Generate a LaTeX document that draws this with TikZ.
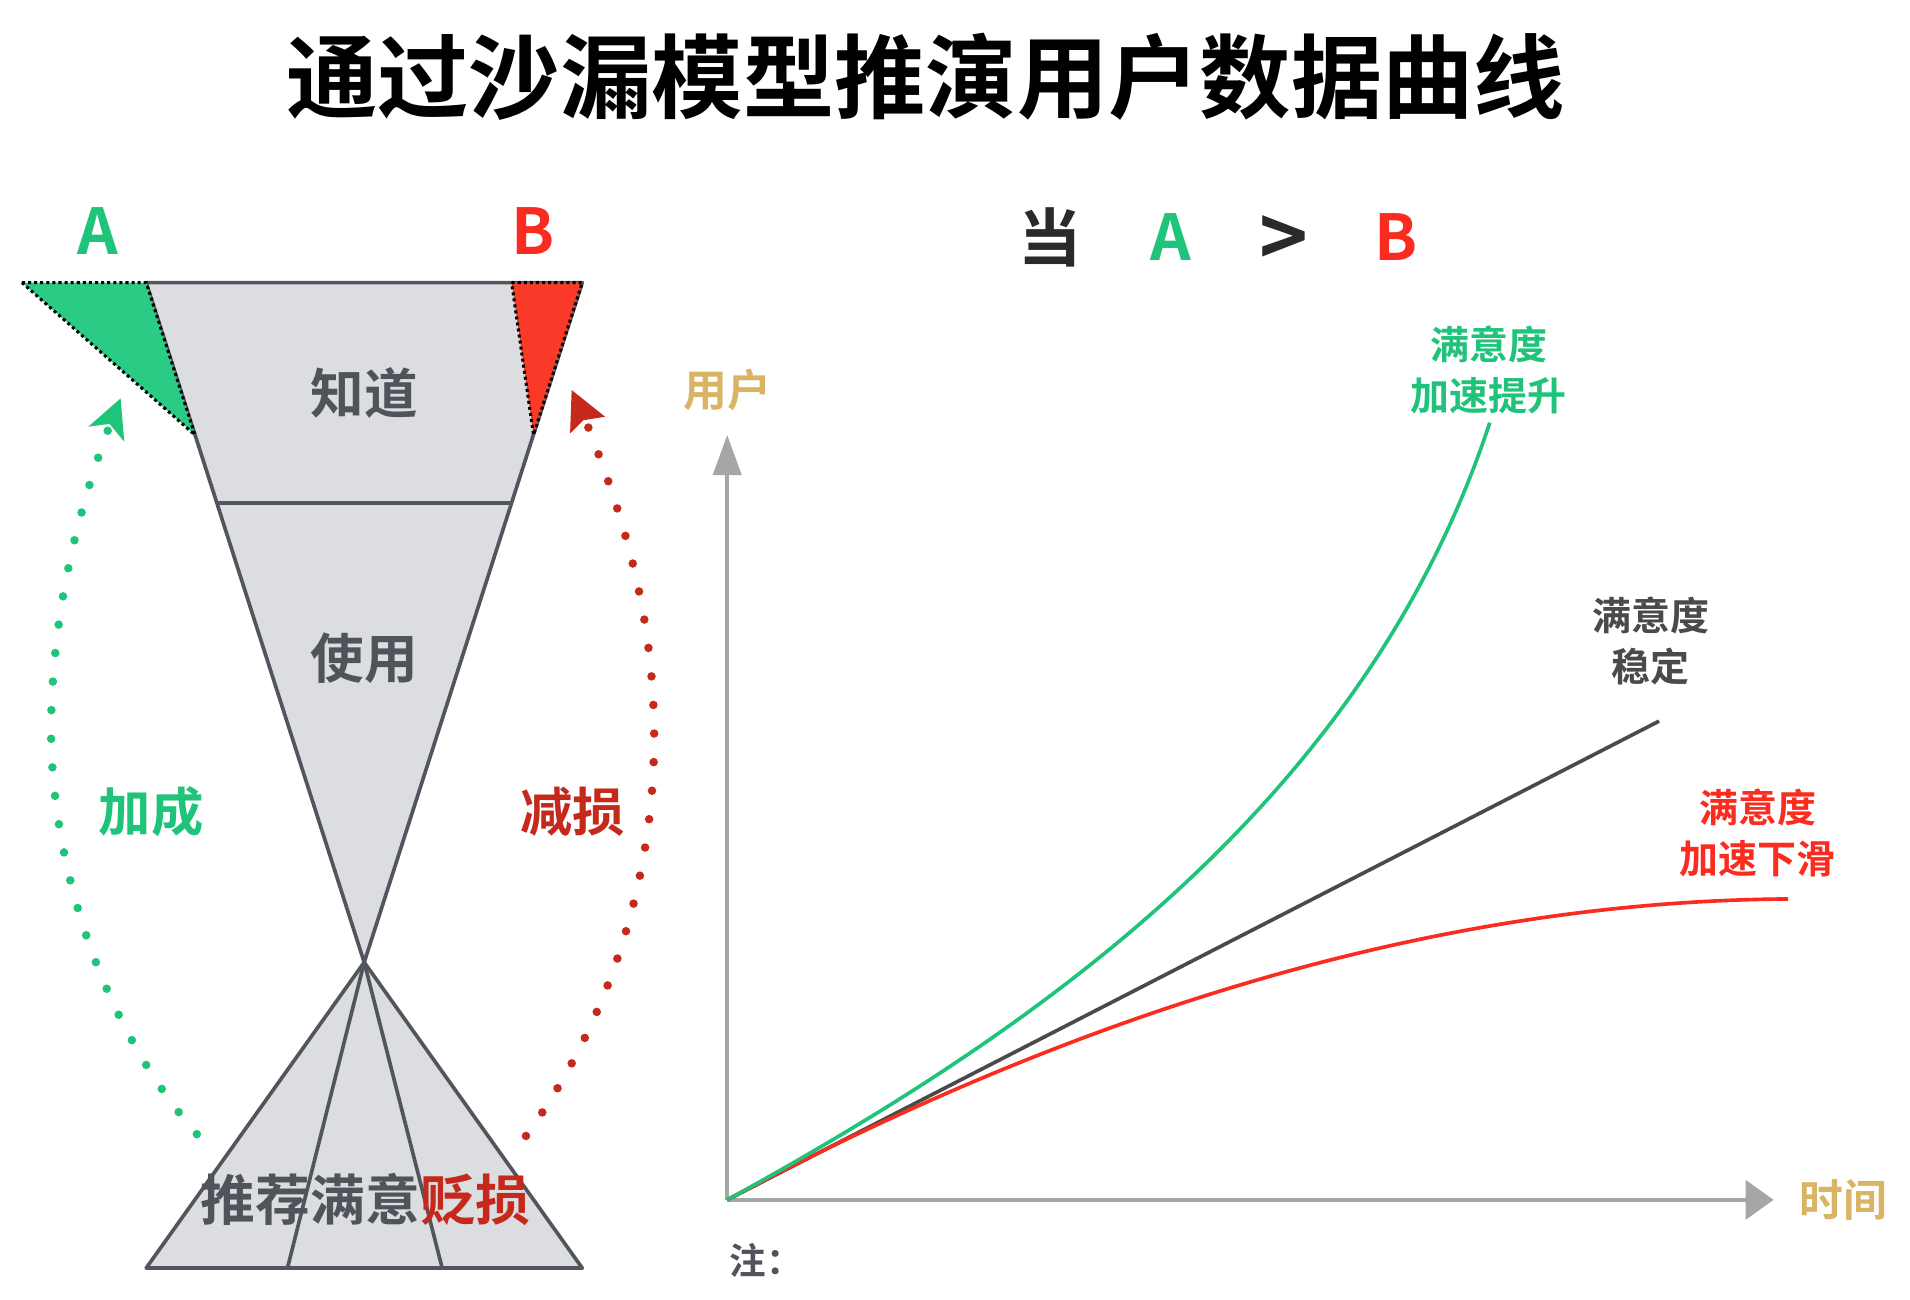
\documentclass[tikz,border=0pt]{standalone}
\usepackage{fontspec}
\setmainfont{Noto Sans CJK SC}[BoldFont={Noto Sans CJK SC Bold}]
\usetikzlibrary{arrows.meta}
\definecolor{hgfill}{HTML}{DCDDE1}
\definecolor{hgline}{HTML}{52555C}
\definecolor{tgray}{HTML}{50535A}
\definecolor{gfill}{HTML}{2ACB84}
\definecolor{gtext}{HTML}{1FC47A}
\definecolor{rfill}{HTML}{F93A28}
\definecolor{rtext}{HTML}{FA2B1F}
\definecolor{dred}{HTML}{C4291C}
\definecolor{axgray}{HTML}{A4A7A6}
\definecolor{gold}{HTML}{DAB465}
\definecolor{lgray}{HTML}{4A4A4A}
\definecolor{ink}{HTML}{2A2A2A}
\tikzset{
  hgshape/.style={fill=hgfill,draw=hgline,line width=3pt,line join=round},
  hgdiv/.style={draw=hgline,line width=3pt},
  tri/.style={draw=black,line width=2.5pt,dash pattern=on 2.5pt off 2.5pt},
  hgtext/.style={text=tgray,font=\bfseries\fontsize{44}{48}\selectfont,inner sep=0pt},
  bigletter/.style={font=\bfseries\fontsize{52}{56}\selectfont,inner sep=0pt},
  midtext/.style={font=\bfseries\fontsize{43}{48}\selectfont,inner sep=0pt},
  curvelabel/.style={font=\bfseries\fontsize{32}{42}\selectfont,align=center,inner sep=0pt},
  axislabel/.style={text=gold,font=\bfseries\fontsize{36}{40}\selectfont,inner sep=0pt},
  dotarc/.style={line width=7pt,line cap=round,dash pattern=on 0pt off 23.5pt},
  axis/.style={draw=axgray,line width=3.3pt},
  curve/.style={line width=3pt}
}
\begin{document}
\begin{tikzpicture}[x=1pt,y=-1pt]
\useasboundingbox[fill=white] (0,0) rectangle (1568,1067);
% title
\node[font=\bfseries\fontsize{75}{80}\selectfont,text=black,inner sep=0pt] (title) at (760,63) {通过沙漏模型推演用户数据曲线};
% hourglass coordinates
\coordinate (tl) at (120,232);
\coordinate (tr) at (478,232);
\coordinate (w) at (299,790);
\coordinate (bl) at (120,1041);
\coordinate (br) at (478,1041);
\coordinate (ml) at (178,413);
\coordinate (mr) at (420,413);
\coordinate (b1) at (236,1041);
\coordinate (b2) at (363,1041);
\coordinate (gA) at (18,232);
\coordinate (gB) at (160,357);
\coordinate (rA) at (420,232);
\coordinate (rB) at (438,357);
% upper part
\draw[hgshape] (tl) -- (tr) -- (w) -- cycle;
\draw[hgdiv] (ml) -- (mr);
% lower part
\draw[hgshape] (w) -- (br) -- (bl) -- cycle;
\draw[hgdiv] (w) -- (b1);
\draw[hgdiv] (w) -- (b2);
% A / B triangles
\fill[gfill] (gA) -- (tl) -- (gB) -- cycle;
\draw[tri] (gA) -- (tl) -- (gB) -- cycle;
\fill[rfill] (rA) -- (tr) -- (rB) -- cycle;
\draw[tri] (rA) -- (tr) -- (rB) -- cycle;
% hourglass texts
\node[hgtext] (zd) at (299,323) {知道};
\node[hgtext] (sy) at (299,540) {使用};
\node[inner sep=0pt,font=\bfseries\fontsize{45}{50}\selectfont] (bot) at (300,985) {\textcolor{tgray}{推荐满意}\textcolor{dred}{贬损}};
\node[bigletter,text=gtext] (la) at (80,190) {A};
\node[bigletter,text=rtext] (lb) at (438,190) {B};
% dotted arcs (drawn from the arrow end down to the bottom)
\coordinate (gs) at (165,935);
\coordinate (ge) at (88.4,353.6);
\coordinate (rs) at (430,935);
\coordinate (re) at (483,351);
\draw[dotarc,gtext] (ge) .. controls (64,420) and (44,500) .. (42,590) .. controls (40,700) and (80,840) .. (gs);
\fill[gtext] (99,327) -- (72.5,350.3) -- (90,348) -- (102,362.6) -- cycle;
\draw[dotarc,dred] (re) .. controls (510,420) and (536,500) .. (537,600) .. controls (538,720) and (500,840) .. (rs);
\fill[dred] (469.3,320.2) -- (496.7,342.1) -- (479,345) -- (468,355.8) -- cycle;
\node[midtext,text=gtext] (jc) at (124,666) {加成};
\node[midtext,text=dred] (js) at (470,666) {减损};
% heading right
\node[bigletter,text=ink] (dang) at (862,195) {当};
\node[bigletter,text=gtext] (ra) at (961,195) {A};
\node[text=ink,font=\bfseries\fontsize{68}{70}\selectfont,inner sep=0pt] (gt) at (1054,198) {>};
\node[bigletter,text=rtext] (rb) at (1146,195) {B};
% axes
\coordinate (o) at (597,985);
\coordinate (ytip) at (597,357);
\coordinate (xtip) at (1456,985);
\draw[axis,-{Triangle[length=33pt,width=23pt]}] (o) -- (ytip);
\draw[axis,-{Triangle[length=23pt,width=32pt]}] (o) -- (xtip);
\node[axislabel] (yl) at (597,320) {用户};
\node[axislabel] (xl) at (1513,985) {时间};
\node[anchor=west,text=tgray,font=\bfseries\fontsize{30}{34}\selectfont,inner sep=0pt] (note) at (599,1035) {注：};
% curves
\coordinate (gend) at (1223,347);
\coordinate (kend) at (1362,592);
\coordinate (rend) at (1468,738);
\draw[curve,lgray] (o) -- (kend);
\draw[curve,rtext] (o) .. controls (850,850) and (1150,740) .. (rend);
\draw[curve,gtext] (o) .. controls (850,846) and (1120,660) .. (gend);
% curve labels
\node[curvelabel,text=gtext] (lg) at (1222,304) {满意度\\加速提升};
\node[curvelabel,text=lgray] (lk) at (1355,526) {满意度\\稳定};
\node[curvelabel,text=rtext] (lr) at (1443,684) {满意度\\加速下滑};
\end{tikzpicture}
\end{document}
